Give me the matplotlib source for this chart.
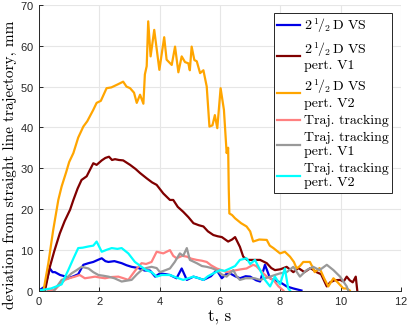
import numpy as np
import matplotlib
matplotlib.use('Agg')
import matplotlib.pyplot as plt

plt.rcParams['mathtext.fontset'] = 'cm'
plt.rcParams['axes.formatter.use_mathtext'] = True

# 2 1/2 D VS
t_bl = [0,0.2,0.36,0.45,0.53,0.7,0.85,0.97,1.15,1.3,
        1.47,1.64,1.8,1.95,2.08,2.2,2.3,2.5,2.74,2.9,
        3.07,3.3,3.5,3.68,3.85,4.01,4.2,4.34,4.56,4.73,
        4.9,5.12,5.3,5.45,5.7,5.89,6.06,6.2,6.33,6.5,
        6.66,6.85,7.0,7.2,7.33,7.49,7.66,7.77,8.0,8.21,
        8.43,8.7]
v_bl = [0,1,5.4,4.5,4.5,3.8,3.5,3,3.5,4,
        6.3,6.7,7,7.5,7.9,7.2,7,7.2,6.7,6.2,
        5.8,5.5,4.9,4.9,3.4,4.2,4,3.8,3,5.4,
        2.6,3.4,3,2.6,3.5,5,3,4,4.2,3.5,
        3,3.5,3.4,2.5,2.2,6.3,3,2.6,2,1,
        0.5,0]

# 2 1/2 D VS pert. V1
t_dr = [0.2,0.36,0.5,0.69,0.85,1.03,1.14,1.28,1.41,1.58,
        1.8,1.91,2.08,2.2,2.32,2.42,2.52,2.65,2.79,3.02,
        3.2,3.35,3.57,3.75,3.9,4.12,4.34,4.45,4.6,4.78,
        4.95,5.12,5.3,5.45,5.6,5.78,5.92,6.06,6.27,6.4,
        6.5,6.66,6.77,6.9,7.1,7.33,7.55,7.7,7.82,8.0,
        8.21,8.43,8.6,8.8,9.0,9.2,9.35,9.54,9.65,9.8,
        9.98,10.1,10.2,10.3,10.4,10.5,10.55]
v_dr = [0,5.8,9.5,14,17,19.8,22.2,25,27.1,28,
        31.2,30.8,31.9,32.5,32.8,32,32.2,32,31.9,30.8,
        29.8,28.8,27.5,26.5,25.9,23.8,22.2,22.2,20.5,19.3,
        18,16.5,16,15.7,14.5,13.6,13.3,13.1,12,12.5,
        13.1,10.7,8.3,7.5,7.5,7.5,6.7,5.5,5,5.2,
        5.8,4.5,5.5,4.5,5.5,4.5,4,1,2,2.5,
        2.6,2.2,3.4,2.5,2,3.4,0]

# 2 1/2 D VS pert. V2
t_or = [0.15,0.31,0.47,0.64,0.75,0.9,1.0,1.14,1.3,1.47,
        1.6,1.8,1.91,2.05,2.24,2.4,2.6,2.79,2.9,3.02,
        3.15,3.24,3.35,3.46,3.51,3.57,3.62,3.70,3.82,3.99,
        4.15,4.23,4.40,4.51,4.62,4.73,4.84,4.95,5.0,5.06,
        5.15,5.23,5.34,5.45,5.56,5.65,5.75,5.83,5.91,6.02,
        6.13,6.22,6.27,6.29,6.31,6.40,6.50,6.70,6.88,7.0,
        7.1,7.3,7.55,7.65,7.77,7.99,8.15,8.32,8.45,8.54,
        8.65,8.76,8.98,9.05,9.14,9.3,9.45,9.59,9.76,9.9,
        10.09,10.2,10.3]
v_or = [0,6.7,14.8,22.2,25.5,29,31.5,33.7,37.5,40.2,
        41.5,44.3,46,46.5,49.6,49.8,50.5,51.2,50,49.6,
        48.5,46,48,45.8,53,55,66,57.4,63.9,54.1,
        62.1,56.6,55.3,59.8,53.5,57.4,56,55.7,54,59.8,
        56.5,56.2,53.3,54,50,40.2,40.5,43,39.8,49.6,
        44.3,33.7,35,25,18.9,18.5,17.7,16.5,15.7,14.5,
        12,12.5,12.4,11,10.4,9.1,9.5,8.3,7,5.4,
        6,7,7,6,4.5,5.5,3,1,3,2,
        0.5,0.5,0]

# Traj. tracking
t_pk = [0.3,0.53,0.7,0.86,1.0,1.19,1.35,1.52,1.7,1.86,
        2.0,2.19,2.4,2.63,2.8,2.96,3.2,3.4,3.55,3.73,
        3.9,4.12,4.34,4.45,4.56,4.75,4.9,5.05,5.23,5.4,
        5.56,5.7,5.89,6.05,6.22,6.4,6.55,6.7,6.88,7.1,
        7.2,7.33,7.55,7.77,7.94,8.1]
v_pk = [0,0.2,1.5,2.6,3,3.4,3.8,3,3.2,3.4,
        3.2,3,3.3,3.4,3,2.6,5,6.7,6.5,7,
        9.5,9.1,9.9,8.5,7.9,8.5,8.3,7.8,7.5,7.3,
        7,6.2,5.4,5,4.5,4.8,5,5.2,5.4,6.3,
        6,5,3.4,2.6,1,0]

# Traj. tracking pert. V1
t_gy = [0.5,0.75,0.9,1.08,1.25,1.41,1.64,1.8,1.97,2.15,
        2.3,2.5,2.74,2.9,3.07,3.25,3.4,3.55,3.73,3.9,
        4.01,4.2,4.34,4.5,4.67,4.78,4.9,5.0,5.23,5.4,
        5.56,5.72,5.89,6.05,6.22,6.44,6.55,6.66,6.85,7.0,
        7.15,7.33,7.5,7.66,7.82,7.99,8.21,8.43,8.65,8.87,
        9.09,9.3,9.54,9.76,9.98,10.2,10.25]
v_gy = [0,2.6,3,4.2,5,5.8,5.4,4.5,3.8,3.6,
        3.4,3,2.2,2.4,2.6,4,5,5.5,5.8,5.5,
        4.5,5,5.4,7,9.1,8.5,10.4,7.5,6.7,6,
        5.8,5.5,5,4,3.4,5,3.5,2.6,3,3,
        3,2.6,3,3.4,3.8,4.2,4.5,5.8,3.4,5,
        5.8,5,6.3,5,3.4,1,0]

# Traj. tracking pert. V2
t_cy = [0,0.4,0.75,0.97,1.15,1.3,1.45,1.64,1.8,1.91,
        2.08,2.25,2.41,2.6,2.74,2.96,3.18,3.4,3.55,3.73,
        3.9,4.07,4.34,4.55,4.78,4.95,5.12,5.3,5.45,5.6,
        5.78,6.0,6.15,6.33,6.5,6.66,6.88,7.0,7.16,7.33,
        7.49,7.66,7.82,7.99,8.15,8.26,8.32]
v_cy = [0,0.5,1.5,5,8,10.4,10.5,10.8,11,12,
        9.5,10,10.4,10.2,10.4,9.1,7,5.8,5,4.5,
        3.4,3.8,3.8,3.2,2.6,3,3.4,3,2.6,3.5,
        4.2,5,4.8,5.4,6,7.5,7.9,6.5,7.5,5,
        2.6,1,3.4,1.5,5.4,0.5,0]

labels = [r'$2\,{}^{1}\!/_{2}\,$D VS',
          '$2\\,{}^{1}\\!/_{2}\\,$D VS\npert. V1',
          '$2\\,{}^{1}\\!/_{2}\\,$D VS\npert. V2',
          'Traj. tracking',
          'Traj. tracking\npert. V1',
          'Traj. tracking\npert. V2']
colors = ['#0000e6', '#800000', '#ffa500', '#ff8080', '#999999', '#00ffff']
series = [(t_bl, v_bl), (t_dr, v_dr), (t_or, v_or),
          (t_pk, v_pk), (t_gy, v_gy), (t_cy, v_cy)]

fig = plt.figure(figsize=(4.07, 3.27), dpi=100)
ax = fig.add_axes([39/407, 36.5/327, 362/407, 285.5/327])

for (t, v), c, lab in zip(series, colors, labels):
    ax.plot(t, v, color=c, lw=1.6, label=lab)

ax.set_xlim(0, 12)
ax.set_ylim(0, 70)
ax.set_xticks(np.arange(0, 13, 2))
ax.set_yticks(np.arange(0, 71, 10))
ax.grid(True, color='#e6e6e6', lw=0.8)
ax.set_axisbelow(True)
for s in ['top', 'right']:
    ax.spines[s].set_visible(False)
for s in ['left', 'bottom']:
    ax.spines[s].set_color('#262626')
    ax.spines[s].set_linewidth(0.7)
ax.tick_params(direction='in', length=3, width=0.7, colors='#262626', labelsize=8)
for lbl in ax.get_xticklabels() + ax.get_yticklabels():
    lbl.set_family('Liberation Sans')

ax.set_xlabel('t, s', family='cmr10', fontsize=12, labelpad=1)
ax.set_ylabel('deviation from straight line trajectory, mm', family='cmr10', fontsize=11, labelpad=2)
ax.yaxis.set_label_coords(-0.062, 0.44)

leg = ax.legend(loc='upper right', bbox_to_anchor=(0.975, 0.972), borderaxespad=0,
                prop={'family': 'cmr10', 'size': 10}, fancybox=False, framealpha=1,
                edgecolor='#262626', handlelength=1.6, handletextpad=0.3,
                labelspacing=0.35, borderpad=0.25)
leg.get_frame().set_linewidth(0.7)

fig.savefig('out.png', dpi=100)
